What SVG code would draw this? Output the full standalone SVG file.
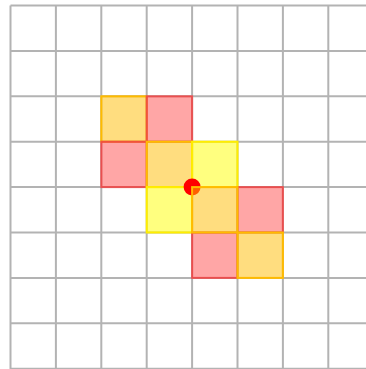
<svg xmlns="http://www.w3.org/2000/svg" width="366" height="369" viewBox="0 0 366 369">
<style>
.grid line{stroke:#b3b3b3;stroke-width:2}
.o{fill:#ffbb00;fill-opacity:.5;stroke:#ffbb00;stroke-width:2}
.r{fill:#ff4d4d;fill-opacity:.5;stroke:#ee4444;stroke-opacity:.85;stroke-width:2}
.y{fill:#ffff00;fill-opacity:.5;stroke:#ffee00;stroke-width:2}
</style>
<rect width="366" height="369" fill="#fff"/>
<g class="grid">
<line x1="10.5" y1="5.5" x2="10.5" y2="369"/>
<line x1="55.9" y1="5.5" x2="55.9" y2="369"/>
<line x1="101.3" y1="5.5" x2="101.3" y2="369"/>
<line x1="146.7" y1="5.5" x2="146.7" y2="369"/>
<line x1="192.1" y1="5.5" x2="192.1" y2="369"/>
<line x1="237.5" y1="5.5" x2="237.5" y2="369"/>
<line x1="282.9" y1="5.5" x2="282.9" y2="369"/>
<line x1="328.3" y1="5.5" x2="328.3" y2="369"/>
<line x1="10.5" y1="5.5" x2="366" y2="5.5"/>
<line x1="10.5" y1="50.9" x2="366" y2="50.9"/>
<line x1="10.5" y1="96.3" x2="366" y2="96.3"/>
<line x1="10.5" y1="141.7" x2="366" y2="141.7"/>
<line x1="10.5" y1="187.1" x2="366" y2="187.1"/>
<line x1="10.5" y1="232.5" x2="366" y2="232.5"/>
<line x1="10.5" y1="277.9" x2="366" y2="277.9"/>
<line x1="10.5" y1="323.3" x2="366" y2="323.3"/>
<line x1="10.5" y1="368.7" x2="366" y2="368.7"/>
</g>
<g id="cells">
<rect id="c22" class="o" x="101.3" y="96.3" width="45.4" height="45.4"/>
<rect id="c32" class="r" x="146.7" y="96.3" width="45.4" height="45.4"/>
<rect id="c23" class="r" x="101.3" y="141.7" width="45.4" height="45.4"/>
<rect id="c33" class="o" x="146.7" y="141.7" width="45.4" height="45.4"/>
<rect id="c43" class="y" x="192.1" y="141.7" width="45.4" height="45.4"/>
<rect id="c34" class="y" x="146.7" y="187.1" width="45.4" height="45.4"/>
<rect id="c54" class="r" x="237.5" y="187.1" width="45.4" height="45.4"/>
<rect id="c45" class="r" x="192.1" y="232.5" width="45.4" height="45.4"/>
<rect id="c55" class="o" x="237.5" y="232.5" width="45.4" height="45.4"/>
</g>
<g id="point"><circle cx="192.1" cy="187.1" r="8.5" fill="#ff0000"/></g>
<g id="cell44"><rect id="c44" class="o" x="192.1" y="187.1" width="45.4" height="45.4"/></g>
</svg>
